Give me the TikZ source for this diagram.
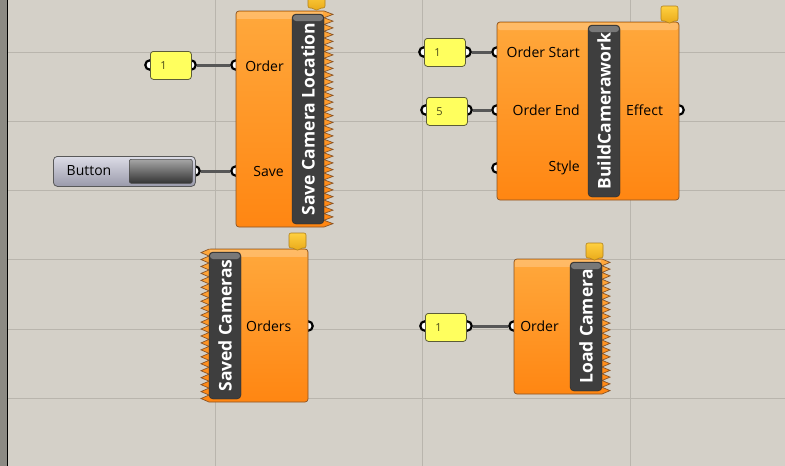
\documentclass[tikz,border=0pt]{standalone}
\usepackage{fontspec}
\setmainfont{Open Sans}
\usetikzlibrary{positioning}
\pgfdeclarelayer{bg}
\pgfdeclarelayer{back}
\pgfsetlayers{bg,back,main}

\definecolor{canvas}{HTML}{D4D0C8}
\definecolor{gridline}{HTML}{B9B5AD}
\definecolor{strip}{HTML}{8C8A84}
\definecolor{orangetop}{HTML}{FFA83C}
\definecolor{orangebot}{HTML}{FF8612}
\definecolor{compedge}{HTML}{8A5426}
\definecolor{barfill}{HTML}{3E3E3E}
\definecolor{numfill}{HTML}{FFFF5E}
\definecolor{numedge}{HTML}{5C5C38}
\definecolor{numtext}{HTML}{4A4A18}
\definecolor{wirecol}{HTML}{575757}
\definecolor{tabtop}{HTML}{FFD040}
\definecolor{tabbot}{HTML}{E8A818}
\definecolor{tabedge}{HTML}{B0801A}
\definecolor{btntop}{HTML}{DCDCE6}
\definecolor{btnbot}{HTML}{9A9AAA}

\tikzset{
  comp/.style={draw=compedge, line width=0.7pt, top color=orangetop, bottom color=orangebot},
  gloss/.style={white, opacity=0.22},
  bar/.style={draw=black!85, fill=barfill, rounded corners=4pt, text=white,
    font=\fontsize{17.5}{17.5}\selectfont\bfseries, inner sep=0pt, rotate=90},
  slider/.style={draw=numedge, line width=0.8pt, fill=numfill, rounded corners=3pt,
    minimum width=41pt, minimum height=28pt, anchor=north west, text width=21pt,
    inner xsep=10pt, align=left, text=numtext, font=\fontsize{11}{11}\selectfont},
  port/.style={circle, draw=black, fill=white, line width=2.2pt, inner sep=0pt, minimum size=9.5pt},
  wire/.style={draw=wirecol, line width=3pt},
  param/.style={font=\fontsize{14}{14}\selectfont, text=black, inner sep=0pt},
  tab/.style={draw=tabedge, line width=0.6pt, top color=tabtop, bottom color=tabbot, rounded corners=2pt}
}

\begin{document}
\begin{tikzpicture}[x=1pt,y=-1pt]
  \useasboundingbox (0,0) rectangle (785,466);
  % canvas
  \begin{pgfonlayer}{bg}
    \fill[canvas] (0,0) rectangle (785,466);
    \foreach \gx in {215,422,630}
      \draw[gridline, line width=1pt] (\gx,0) -- (\gx,466);
    \foreach \gy in {52,121,190,259,329,398}
      \draw[gridline, line width=1pt] (8,\gy) -- (785,\gy);
    \fill[strip] (0,0) rectangle (7,466);
    \draw[black, line width=1.5pt] (7.5,0) -- (7.5,466);
  \end{pgfonlayer}

  % Save Camera Location
  \path[comp, rounded corners=3pt] (280,227) -- (236,227) -- (236,11) -- (280,11) [sharp corners] -- (324,11)
    \foreach \i in {0,...,31} { -- (333,11+\i*6.75+3.375) -- (324,11+\i*6.75+6.75) } -- cycle;
  \fill[gloss] (237,12) rectangle (323,19);
  \node[bar, minimum width=210pt, minimum height=32pt] (sclTitle) at (308,119) {Save Camera Location};
  \node[param, anchor=east] (sclOrder) at (284,66) {Order};
  \node[param, anchor=east] (sclSave) at (284,171) {Save};

  % BuildCamerawork
  \path[comp, rounded corners=3pt] (497,22) rectangle (679,200);
  \fill[gloss, rounded corners=2pt] (498,23) rectangle (678,30);
  \node[bar, minimum width=172pt, minimum height=32pt] (bcwTitle) at (604,111) {BuildCamerawork};
  \node[param, anchor=east] (bcwStart) at (580,52) {Order Start};
  \node[param, anchor=east] (bcwEnd) at (580,110) {Order End};
  \node[param, anchor=east] (bcwStyle) at (580,168) {Style};
  \node[param, anchor=west] (bcwEffect) at (626,110) {Effect};

  % Saved Cameras
  \path[comp, rounded corners=3pt] (250,249) -- (308,249) -- (308,402) -- (250,402) [sharp corners] -- (209,402)
    \foreach \i in {0,...,21} { -- (201,402-\i*6.95-3.475) -- (209,402-\i*6.95-6.95) } -- cycle;
  \fill[gloss] (210,250) rectangle (307,257);
  \node[bar, minimum width=147pt, minimum height=32pt] (scTitle) at (225,325.5) {Saved Cameras};
  \node[param, anchor=west] (scOrders) at (246,326) {Orders};

  % Load Camera
  \path[comp, rounded corners=3pt] (560,394) -- (514,394) -- (514,259) -- (560,259) [sharp corners] -- (602,259)
    \foreach \i in {0,...,19} { -- (610,259+\i*6.75+3.375) -- (602,259+\i*6.75+6.75) } -- cycle;
  \fill[gloss] (515,260) rectangle (601,267);
  \node[bar, minimum width=129pt, minimum height=32pt] (lcTitle) at (586,326.5) {Load Camera};
  \node[param, anchor=east] (lcOrder) at (559,326) {Order};

  % lighter tops of the title bars
  \foreach \bx/\by in {292/14, 588/25, 209/252, 570/262}
    \fill[white, opacity=0.3, rounded corners=3pt] (\bx+1,\by+1) rectangle ++(30,6);

  % message tabs
  \foreach \tx/\ty in {308/-7, 661/6, 289/233, 586/243}
    \path[tab] (\tx,\ty) -- ++(17,0) -- ++(0,15) -- ++(-5.5,0) -- ++(-3,3) -- ++(-3,-3) -- ++(-5.5,0) -- cycle;

  % number sliders
  \node[slider] (numA) at (150,51) {1};
  \node[slider] (numB) at (424,38) {1};
  \node[slider] (numC) at (426,97) {5};
  \node[slider] (numD) at (425,313) {1};

  % button
  \node[draw=black!65, line width=0.8pt, top color=btntop, bottom color=btnbot, rounded corners=4pt,
    minimum width=142pt, minimum height=30pt, anchor=north west] (btn) at (53,156) {};
  \node[draw=black!70, line width=0.6pt, top color=black!35, bottom color=black!80, rounded corners=2pt,
    minimum width=63pt, minimum height=24pt, anchor=north west] (btnKey) at (129,159) {};
  \node[param] (btnLabel) at (89,171) {Button};

  % ports and wires
  \begin{pgfonlayer}{back}
    \node[port] (numAin) at (150,65) {};
    \node[port] (numAout) at (191,65) {};
    \node[port] (btnOut) at (195,171) {};
    \node[port] (sclIn1) at (236,65) {};
    \node[port] (sclIn2) at (236,171) {};
    \node[port] (numBin) at (424,52) {};
    \node[port] (numBout) at (466,52) {};
    \node[port] (numCin) at (426,110) {};
    \node[port] (numCout) at (467,110) {};
    \node[port] (bcwIn1) at (497,52) {};
    \node[port] (bcwIn2) at (497,110) {};
    \node[port] (bcwIn3) at (497,168) {};
    \node[port] (bcwOut) at (679,110) {};
    \node[port] (scOut) at (308,326) {};
    \node[port] (numDin) at (425,326) {};
    \node[port] (numDout) at (467,326) {};
    \node[port] (lcIn) at (514,326) {};
    \begin{scope}[wire]
      \draw (numAout) -- (sclIn1);
      \draw (btnOut) -- (sclIn2);
      \draw (numBout) -- (bcwIn1);
      \draw (numCout) -- (bcwIn2);
      \draw (numDout) -- (lcIn);
    \end{scope}
  \end{pgfonlayer}
\end{tikzpicture}
\end{document}
